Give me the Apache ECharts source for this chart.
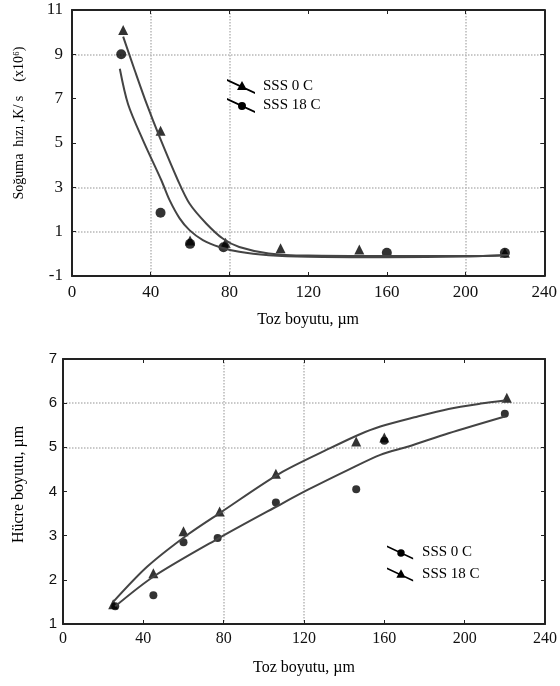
<!DOCTYPE html>
<html>
<head>
<meta charset="utf-8">
<script src="https://cdn.jsdelivr.net/npm/echarts@6/dist/echarts.min.js"></script>
<style>
  html, body { margin: 0; padding: 0; background: #fff; }
  #main { width: 560px; height: 686px; }
</style>
</head>
<body>
<div id="main"></div>
<script>
// üst grafik: soğuma hızı (x10^6 K/s)
const rateX0 = [26, 45, 60, 78, 106, 146, 220];
const rateY0 = [10.1, 5.55, 0.6, 0.5, 0.25, 0.2, 0.05];
const rateX18 = [25, 45, 60, 77, 160, 220];
const rateY18 = [9.0, 1.85, 0.45, 0.3, 0.05, 0.05];
// eğriler
const rateFitX0 = [26, 32, 38, 44.6, 53.8, 59.7, 68.2, 76.6, 85, 100, 120, 160, 200, 222];
const rateFitY0 = [9.8, 8.25, 6.75, 5.25, 3.32, 2.27, 1.37, 0.69, 0.31, 0.02, -0.08, -0.1, -0.1, -0.06];
const rateFitX18 = [24.3, 28.5, 36.1, 45.4, 49.6, 54.7, 59.7, 66.5, 74.9, 85, 100, 120, 160, 200, 222];
const rateFitY18 = [8.35, 6.75, 5.12, 3.32, 2.42, 1.6, 1.07, 0.62, 0.31, 0.09, -0.06, -0.13, -0.15, -0.12, -0.05];

// alt grafik: hücre boyutu (µm)
const cellX0 = [26, 45, 60, 77, 106, 146, 160, 220];
const cellY0 = [1.4, 1.65, 2.85, 2.95, 3.75, 4.05, 5.15, 5.76];
const cellX18 = [25, 45, 60, 78, 106, 146, 160, 221];
const cellY18 = [1.45, 2.15, 3.1, 3.55, 4.4, 5.13, 5.22, 6.12];
const cellFitX0 = [26, 45, 77.5, 108, 122, 142, 158, 172, 192, 220];
const cellFitY0 = [1.4, 2.07, 2.94, 3.7, 4.04, 4.49, 4.83, 5.02, 5.32, 5.7];
const cellFitX18 = [25, 42, 62, 79, 108, 133, 147, 158, 175, 192, 208, 220];
const cellFitY18 = [1.5, 2.3, 3.02, 3.54, 4.41, 4.98, 5.28, 5.47, 5.68, 5.87, 5.99, 6.06];

const pairs = (xs, ys) => xs.map((x, i) => [x, ys[i]]);

const chart = echarts.init(document.getElementById('main'));

const G = '#b8b8b8';
const T = 'rgba(0,0,0,0)';
const serif = 'Liberation Serif';

// legend ikonları: eğik çizgi + işaret
const iconTri = 'path://M0,0 L28,13 L28,15 L0,2 Z M15,2 L20,11 L10,11 Z';
const iconDot = 'path://M0,0 L28,13 L28,15 L0,2 Z M19,8 A4,4 0 1,1 11,8 A4,4 0 1,1 19,8 Z';

function frameAxis(pos, min, max, interval, gridIndex) {
  return {
    type: 'value', gridIndex, position: pos, min, max, interval,
    axisLine: { show: true, onZero: false, lineStyle: { color: '#222', width: 2 } },
    axisTick: { show: true, inside: true, length: 4, lineStyle: { color: '#222' } },
    axisLabel: { show: false },
    splitLine: { show: false }
  };
}

function fitLine(name, xi, xs, ys) {
  return {
    name, type: 'line', xAxisIndex: xi, yAxisIndex: xi, data: pairs(xs, ys),
    smooth: 0.3, showSymbol: false, lineStyle: { color: '#444', width: 2 }, itemStyle: { color: '#000' }
  };
}

const option = {
  backgroundColor: '#fff',
  animation: false,
  grid: [
    { left: 72, right: 14, top: 10, height: 266 },
    { left: 63, right: 15, top: 359, height: 265 }
  ],
  legend: [
    {
      orient: 'vertical', left: 222, top: 74, itemWidth: 28, itemHeight: 15, itemGap: 4,
      textStyle: { fontFamily: serif, fontSize: 15, color: '#000', padding: [0, 0, 0, 3] },
      data: [{ name: 'SSS 0 C', icon: iconTri }, { name: 'SSS 18 C', icon: iconDot }],
      selectedMode: false
    },
    {
      orient: 'vertical', left: 382, top: 540, itemWidth: 28, itemHeight: 14, itemGap: 7,
      textStyle: { fontFamily: serif, fontSize: 15, color: '#000', padding: [0, 0, 0, 3] },
      data: [{ name: 'SSS 0 C', icon: iconDot }, { name: 'SSS 18 C', icon: iconTri }],
      selectedMode: false
    }
  ],
  xAxis: [
    {
      type: 'value', gridIndex: 0, position: 'bottom', min: 0, max: 240, interval: 40,
      name: 'Toz boyutu, µm', nameLocation: 'middle', nameGap: 36,
      nameTextStyle: { fontFamily: serif, fontSize: 16, color: '#000' },
      axisLine: { show: true, onZero: false, lineStyle: { color: '#222', width: 2 } },
      axisTick: { show: true, inside: true, length: 4, lineStyle: { color: '#222' } },
      axisLabel: { fontFamily: serif, fontSize: 17, color: '#111', margin: 8 },
      splitLine: { show: true, lineStyle: { type: 'dotted', width: 1.5, color: [T, G, G, T, T, G, T] } }
    },
    frameAxis('top', 0, 240, 40, 0),
    {
      type: 'value', gridIndex: 1, position: 'bottom', min: 0, max: 240, interval: 40,
      name: 'Toz boyutu, µm', nameLocation: 'middle', nameGap: 36,
      nameTextStyle: { fontFamily: serif, fontSize: 16, color: '#000' },
      axisLine: { show: true, onZero: false, lineStyle: { color: '#222', width: 2 } },
      axisTick: { show: true, inside: true, length: 4, lineStyle: { color: '#222' } },
      axisLabel: { fontFamily: serif, fontSize: 16, color: '#111', margin: 7 },
      splitLine: { show: true, lineStyle: { type: 'dotted', width: 1.5, color: [T, T, G, G, T, T, T] } }
    },
    frameAxis('top', 0, 240, 40, 1)
  ],
  yAxis: [
    {
      type: 'value', gridIndex: 0, position: 'left', min: -1, max: 11, interval: 2,
      name: 'Soğuma  hızı ,K/ s    (x10⁶)', nameLocation: 'middle', nameGap: 46, nameRotate: 90,
      nameTextStyle: { fontFamily: serif, fontSize: 14, color: '#000', padding: [0, 0, 0, 40] },
      axisLine: { show: true, onZero: false, lineStyle: { color: '#222', width: 2 } },
      axisTick: { show: true, inside: true, length: 4, lineStyle: { color: '#222' } },
      axisLabel: { fontFamily: serif, fontSize: 17, color: '#111', margin: 9 },
      splitLine: { show: true, lineStyle: { type: 'dotted', width: 1.5, color: [T, G, G, T, T, G, T] } }
    },
    frameAxis('right', -1, 11, 2, 0),
    {
      type: 'value', gridIndex: 1, position: 'left', min: 1, max: 7, interval: 1,
      name: 'Hücre boyutu, µm', nameLocation: 'middle', nameGap: 36, nameRotate: 90,
      nameTextStyle: { fontFamily: serif, fontSize: 16, color: '#000', padding: [0, 0, 0, 14] },
      axisLine: { show: true, onZero: false, lineStyle: { color: '#222', width: 2 } },
      axisTick: { show: true, inside: true, length: 4, lineStyle: { color: '#222' } },
      axisLabel: { fontFamily: 'Liberation Sans', fontSize: 15, color: '#111', margin: 6 },
      splitLine: { show: true, lineStyle: { type: 'dotted', width: 1.5, color: [T, T, T, T, G, G, T] } }
    },
    frameAxis('right', 1, 7, 1, 1)
  ],
  series: [
    // üst grafik
    fitLine('SSS 0 C', 0, rateFitX0, rateFitY0),
    fitLine('SSS 18 C', 0, rateFitX18, rateFitY18),
    {
      name: 'SSS 0 C', type: 'scatter', xAxisIndex: 0, yAxisIndex: 0, data: pairs(rateX0, rateY0),
      symbol: 'triangle', symbolSize: 10, itemStyle: { color: '#000' }
    },
    {
      name: 'SSS 18 C', type: 'scatter', xAxisIndex: 0, yAxisIndex: 0, data: pairs(rateX18, rateY18),
      symbol: 'circle', symbolSize: 10, itemStyle: { color: '#000' }
    },
    // alt grafik
    fitLine('SSS 0 C', 2, cellFitX0, cellFitY0),
    fitLine('SSS 18 C', 2, cellFitX18, cellFitY18),
    {
      name: 'SSS 0 C', type: 'scatter', xAxisIndex: 2, yAxisIndex: 2, data: pairs(cellX0, cellY0),
      symbol: 'circle', symbolSize: 8, itemStyle: { color: '#000' }
    },
    {
      name: 'SSS 18 C', type: 'scatter', xAxisIndex: 2, yAxisIndex: 2, data: pairs(cellX18, cellY18),
      symbol: 'triangle', symbolSize: 10, itemStyle: { color: '#000' }
    }
  ]
};

chart.setOption(option);
</script>
</body>
</html>
